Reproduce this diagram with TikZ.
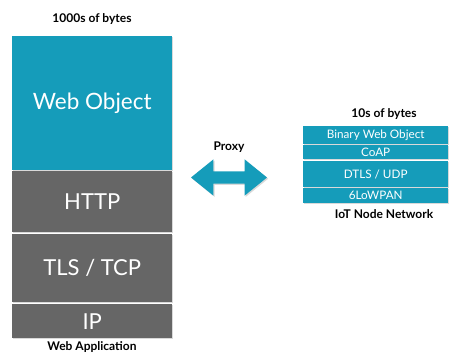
\documentclass[tikz,border=0pt]{standalone}
\usepackage{fontspec}
\setmainfont{Lato}
\usetikzlibrary{shadows,shapes.arrows}
\definecolor{stackteal}{RGB}{21,156,186}
\definecolor{stackgray}{RGB}{102,102,102}
\tikzset{
  layer/.style={anchor=north west, inner sep=0pt, text=white,
    drop shadow={shadow xshift=1.2pt, shadow yshift=-1.2pt, opacity=0.3}},
  webobj/.style={layer, fill=stackteal, font=\fontsize{22.5}{24}\selectfont},
  bigproto/.style={layer, fill=stackgray, font=\fontsize{22}{24}\selectfont},
  iotlayer/.style={layer, fill=stackteal, font=\fontsize{11.7}{13}\selectfont},
  caption/.style={inner sep=0pt, text=black, font=\fontsize{12}{14}\selectfont\bfseries},
}
\begin{document}
\begin{tikzpicture}[x=1pt,y=-1pt]
\useasboundingbox (0,0) rectangle (457,354);

% web application stack
\node[webobj, minimum width=160pt, minimum height=134pt] (web) at (12,36) {Web Object};
\node[bigproto, minimum width=160pt, minimum height=61pt] (http) at (12,171) {HTTP};
\node[bigproto, minimum width=160pt, minimum height=68pt] (tcp) at (12,234) {TLS / TCP};
\node[bigproto, minimum width=160pt, minimum height=34pt] (ip) at (12,304) {IP};
\node[caption] (bigsize) at (92,19) {1000s of bytes};
\node[caption] (webapp) at (92,347) {Web Application};

% IoT node stack
\node[iotlayer, minimum width=145pt, minimum height=18pt] (bwo) at (303,126) {Binary Web Object};
\node[iotlayer, minimum width=145pt, minimum height=14pt] (coap) at (303,145) {CoAP};
\node[iotlayer, minimum width=145pt, minimum height=26pt] (dtls) at (303,161) {DTLS / UDP};
\node[iotlayer, minimum width=145pt, minimum height=15pt] (lowpan) at (303,188) {6LoWPAN};
\node[caption] (smallsize) at (384,114) {10s of bytes};
\node[caption] (iotnet) at (384,214) {IoT Node Network};

% proxy between the two
\node[caption] (proxy) at (229,147) {Proxy};
\node[double arrow, fill=stackteal, inner xsep=0pt, inner ysep=6pt,
      minimum height=76pt,
      double arrow head extend=12pt, double arrow tip angle=78,
      drop shadow={shadow xshift=1.2pt, shadow yshift=-1.2pt, opacity=0.3}]
  (proxyarrow) at (229,177.5) {};
\end{tikzpicture}
\end{document}
